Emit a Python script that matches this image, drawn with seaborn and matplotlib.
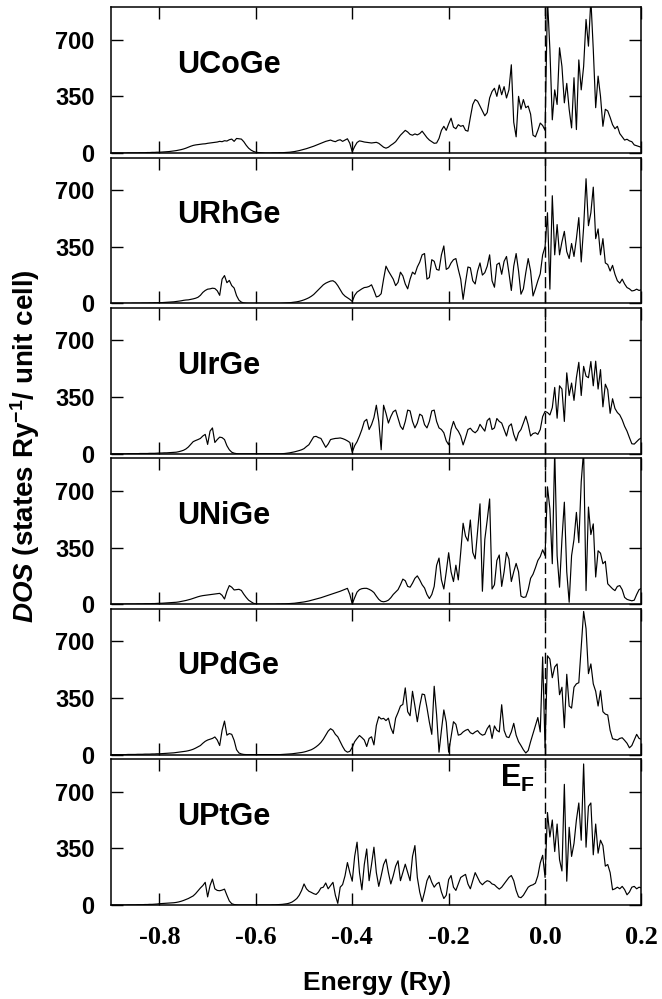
import numpy as np
import matplotlib
matplotlib.use("Agg")
import matplotlib.pyplot as plt
import seaborn as sns

# Energy grid (Ry), 0.005 Ry spacing from -0.9 to 0.2
energy = np.round(np.linspace(-0.9, 0.2, 221), 3)

compounds = ["UCoGe", "URhGe", "UIrGe", "UNiGe", "UPdGe", "UPtGe"]

dos_ucoge = [
    0, 0, 0, 0, 0, 0, 0, 1, 1, 1,
    1, 1, 2, 2, 2, 3, 3, 4, 4, 5,
    5, 6, 7, 8, 9, 11, 13, 15, 18, 21,
    25, 30, 36, 42, 47, 50, 52, 54, 56, 57,
    60, 62, 64, 66, 68, 72, 70, 76, 74, 82,
    86, 72, 90, 88, 86, 70, 48, 30, 18, 10,
    5, 3, 2, 1, 0, 0, 0, 1, 1, 1,
    2, 2, 3, 4, 5, 7, 9, 12, 15, 19,
    23, 27, 32, 37, 42, 48, 54, 60, 66, 72,
    76, 80, 74, 70, 78, 82, 72, 80, 88, 60,
    8, 40, 65, 75, 72, 68, 66, 64, 62, 64,
    66, 60, 48, 36, 30, 36, 48, 58, 70, 90,
    110, 125, 140, 130, 115, 110, 118, 112, 120, 135,
    115, 95, 80, 70, 60, 62, 90, 140, 165, 140,
    180, 215, 160, 150, 175, 165, 170, 140, 135, 220,
    300, 330, 320, 290, 260, 230, 250, 340, 380, 400,
    350, 420, 360, 410, 340, 390, 545, 190, 100, 350,
    270, 330, 280, 290, 240, 110, 100, 140, 185, 170,
    140, 950, 640, 205, 390, 300, 650, 535, 310, 430,
    270, 155, 465, 145, 575, 390, 535, 825, 660, 950,
    640, 280, 475, 350, 165, 270, 260, 220, 175, 150,
    165, 120, 100, 80, 85, 75, 70, 50, 45, 40,
    35,
]

dos_urhge = [
    0, 0, 0, 0, 0, 0, 0, 0, 0, 1,
    1, 1, 1, 2, 2, 2, 3, 3, 4, 4,
    5, 5, 6, 7, 8, 9, 10, 12, 14, 16,
    19, 21, 22, 25, 28, 32, 38, 50, 68, 80,
    88, 90, 94, 92, 78, 50, 150, 172, 128, 142,
    110, 95, 48, 20, 8, 3, 1, 0, 0, 0,
    0, 0, 0, 0, 0, 0, 0, 0, 0, 0,
    0, 1, 2, 3, 4, 6, 8, 10, 13, 17,
    22, 28, 35, 44, 55, 70, 85, 100, 115, 125,
    132, 138, 140, 130, 110, 85, 60, 45, 35, 25,
    12, 50, 70, 80, 90, 98, 100, 105, 115, 80,
    40, 45, 60, 150, 230, 200, 175, 150, 110, 130,
    193, 170, 120, 90, 150, 193, 180, 225, 255, 300,
    308, 150, 160, 270, 260, 210, 205, 300, 355, 210,
    220, 250, 270, 277, 210, 150, 25, 130, 225, 220,
    140, 120, 200, 250, 175, 190, 230, 300, 140, 100,
    240, 250, 180, 260, 290, 190, 80, 230, 308, 200,
    57, 90, 190, 277, 200, 46, 90, 140, 183, 300,
    350, 560, 88, 665, 300, 487, 300, 380, 445, 320,
    277, 370, 290, 400, 530, 256, 470, 770, 480, 560,
    718, 400, 460, 300, 400, 250, 240, 200, 235, 180,
    140, 125, 150, 120, 98, 90, 77, 80, 88, 80,
    85,
]

dos_uirge = [
    0, 0, 0, 0, 0, 0, 0, 1, 1, 1,
    1, 1, 2, 2, 2, 2, 3, 3, 3, 4,
    5, 5, 6, 6, 7, 8, 9, 10, 13, 17,
    22, 30, 42, 58, 75, 82, 88, 95, 110, 120,
    58, 140, 160, 70, 88, 103, 100, 88, 50, 25,
    10, 4, 1, 0, 0, 0, 0, 0, 0, 0,
    0, 0, 0, 0, 0, 0, 0, 0, 0, 0,
    0, 1, 2, 4, 6, 9, 12, 16, 20, 25,
    32, 45, 56, 80, 105, 108, 100, 95, 67, 40,
    60, 88, 92, 95, 96, 98, 94, 88, 80, 70,
    10, 50, 75, 110, 150, 200, 213, 150, 180, 224,
    300, 200, 25, 300, 250, 190, 230, 260, 270, 220,
    170, 150, 200, 270, 265, 200, 160, 190, 245, 235,
    180, 160, 200, 265, 270, 200, 160, 150, 130, 80,
    56, 150, 200, 160, 140, 110, 55, 100, 150, 158,
    140, 130, 145, 182, 160, 140, 205, 220, 150, 160,
    218, 200, 190, 150, 110, 170, 185, 120, 80, 130,
    150, 190, 232, 180, 110, 125, 130, 120, 150, 230,
    262, 255, 240, 285, 410, 220, 420, 400, 200, 500,
    360, 437, 330, 470, 565, 360, 540, 480, 470, 570,
    420, 572, 400, 520, 290, 430, 395, 250, 340, 280,
    255, 240, 210, 170, 140, 100, 62, 60, 75, 90,
    98,
]

dos_unige = [
    0, 0, 0, 0, 0, 0, 1, 1, 1, 1,
    1, 2, 2, 2, 3, 3, 3, 4, 4, 5,
    6, 6, 7, 8, 9, 10, 11, 12, 14, 17,
    20, 23, 27, 31, 36, 41, 46, 50, 53, 55,
    57, 59, 61, 63, 65, 67, 55, 32, 80, 115,
    105, 88, 90, 92, 85, 62, 42, 25, 15, 6,
    2, 0, 0, 0, 0, 0, 0, 0, 0, 1,
    1, 2, 2, 3, 4, 5, 6, 8, 10, 12,
    14, 17, 20, 24, 28, 32, 36, 40, 45, 50,
    55, 60, 65, 70, 75, 80, 86, 92, 98, 60,
    2, 40, 75, 90, 96, 98, 98, 92, 84, 72,
    50, 30, 18, 15, 18, 25, 40, 60, 75, 90,
    120, 155, 145, 110, 105, 130, 160, 175, 150, 120,
    100, 60, 35, 60, 110, 240, 285, 150, 94, 200,
    318, 200, 140, 241, 150, 320, 500, 420, 390, 520,
    320, 280, 450, 620, 80, 400, 520, 650, 94, 120,
    270, 304, 110, 200, 320, 280, 140, 200, 252, 200,
    50, 42, 45, 90, 160, 185, 225, 270, 294, 336,
    300, 725, 588, 250, 950, 300, 105, 400, 630, 200,
    12, 300, 400, 567, 380, 756, 950, 84, 600, 430,
    496, 168, 330, 315, 250, 265, 126, 110, 95, 84,
    110, 115, 90, 42, 30, 25, 21, 25, 60, 90,
    98,
]

dos_updge = [
    0, 0, 0, 0, 0, 0, 0, 1, 1, 1,
    1, 2, 2, 2, 3, 3, 3, 4, 4, 5,
    5, 6, 7, 8, 9, 10, 11, 13, 15, 17,
    19, 21, 24, 28, 33, 40, 48, 56, 70, 82,
    90, 95, 100, 109, 90, 56, 150, 207, 120, 130,
    125, 88, 30, 10, 4, 1, 0, 0, 0, 0,
    0, 0, 0, 0, 0, 0, 0, 0, 0, 0,
    0, 1, 2, 3, 4, 5, 7, 9, 11, 13,
    16, 20, 25, 30, 38, 48, 60, 75, 95, 120,
    145, 160, 150, 125, 110, 80, 50, 25, 15, 20,
    45, 80, 100, 118, 105, 90, 50, 100, 110, 60,
    180, 234, 220, 224, 210, 225, 166, 130, 225, 260,
    300, 310, 412, 265, 240, 391, 300, 203, 300, 374,
    370, 290, 200, 125, 422, 245, 15, 150, 276, 200,
    15, 110, 203, 187, 120, 125, 140, 150, 156, 135,
    128, 140, 148, 130, 120, 125, 160, 182, 100, 177,
    150, 140, 308, 150, 110, 105, 140, 193, 120, 80,
    56, 30, 10, 25, 80, 130, 180, 229, 140, 603,
    42, 610, 590, 475, 541, 560, 370, 416, 166, 496,
    300, 287, 416, 437, 444, 666, 884, 778, 500, 560,
    437, 391, 300, 395, 265, 250, 245, 150, 98, 94,
    90, 100, 104, 88, 70, 42, 56, 90, 125, 100,
    94,
]

dos_uptge = [
    0, 0, 0, 0, 0, 0, 0, 1, 1, 1,
    1, 2, 2, 2, 3, 3, 4, 4, 5, 6,
    8, 9, 10, 11, 12, 13, 14, 16, 19, 23,
    28, 34, 40, 48, 56, 70, 88, 105, 120, 140,
    50, 120, 160, 100, 90, 88, 92, 98, 60, 25,
    8, 3, 1, 0, 0, 0, 0, 0, 0, 0,
    0, 0, 0, 0, 0, 0, 0, 1, 1, 2,
    3, 4, 6, 8, 12, 18, 28, 40, 60, 90,
    130, 100, 85, 78, 70, 65, 80, 105, 110, 136,
    100, 120, 140, 60, 10, 110, 126, 180, 262, 200,
    147, 300, 388, 200, 94, 250, 346, 150, 250, 357,
    200, 115, 180, 250, 283, 200, 130, 180, 240, 273,
    150, 200, 252, 200, 150, 300, 367, 170, 80, 21,
    80, 150, 182, 140, 110, 130, 140, 80, 40, 60,
    157, 182, 110, 90, 130, 170, 180, 189, 130, 100,
    150, 200, 170, 140, 125, 140, 150, 145, 130, 125,
    110, 98, 110, 130, 150, 170, 182, 150, 90, 50,
    45, 60, 85, 110, 120, 125, 135, 180, 260, 307,
    170, 571, 420, 525, 330, 500, 280, 210, 745, 147,
    480, 300, 380, 525, 630, 400, 871, 357, 609, 630,
    310, 500, 320, 400, 367, 240, 250, 200, 94, 100,
    110, 100, 115, 95, 63, 80, 110, 115, 100, 110,
    105,
]

dos_sets = [dos_ucoge, dos_urhge, dos_uirge, dos_unige, dos_updge, dos_uptge]

x_ticks = [-0.8, -0.6, -0.4, -0.2, 0.0, 0.2]
y_ticks = [0, 350, 700]

sns.set_theme(style="ticks")
plt.rcParams["font.family"] = ["Liberation Sans", "DejaVu Sans"]
plt.rcParams["axes.unicode_minus"] = False
plt.rcParams["text.color"] = "black"
plt.rcParams["axes.labelcolor"] = "black"
plt.rcParams["axes.edgecolor"] = "black"
plt.rcParams["xtick.color"] = "black"
plt.rcParams["ytick.color"] = "black"
plt.rcParams["mathtext.fontset"] = "custom"
plt.rcParams["mathtext.rm"] = "Liberation Sans:bold"
plt.rcParams["mathtext.bf"] = "Liberation Sans:bold"
plt.rcParams["mathtext.it"] = "Liberation Sans:italic:bold"

fig, axes = plt.subplots(6, 1, sharex=True, figsize=(6.62, 9.99), dpi=100)
fig.subplots_adjust(left=0.168, right=0.969, top=0.9927, bottom=0.0941, hspace=0.032)

for ax, name, dos in zip(axes, compounds, dos_sets):
    sns.lineplot(x=energy, y=dos, ax=ax, color="black", linewidth=0.85,
                 estimator=None, sort=False)
    ax.axvline(0.0, color="black", linewidth=1.0, linestyle=(0, (8, 3)))
    ax.set_xlim(-0.9, 0.2)
    ax.set_ylim(0, 900)
    ax.set_xticks(x_ticks)
    ax.set_yticks(y_ticks)
    ax.set_yticklabels([str(v) for v in y_ticks], fontsize=17, fontweight="bold",
                       color="black")
    ax.tick_params(axis="both", direction="in", top=True, right=True,
                   length=8.5, width=1.0, color="black", labelcolor="black")
    ax.tick_params(axis="y", pad=12)
    for sp in ax.spines.values():
        sp.set_linewidth(1.1)
        sp.set_color("black")
    ax.set_xlabel("")
    ax.set_ylabel("")
    ax.text(0.124, 0.55, name, transform=ax.transAxes, fontsize=22,
            fontweight="bold", color="black", ha="left", va="baseline")

bottom = axes[-1]
bottom.set_xticklabels([f"{v:.1f}" for v in x_ticks], fontsize=19,
                       fontweight="bold", family="Liberation Serif", color="black")
bottom.tick_params(axis="x", pad=15)
bottom.text(-0.022, 0.81, r"E$_{\mathrm{F}}$", fontsize=22, fontweight="bold",
            color="black", ha="right", va="baseline",
            transform=bottom.get_xaxis_transform())

fig.text(0.569, 0.016, "Energy (Ry)", fontsize=19, fontweight="bold",
         color="black", ha="center", va="center")
fig.text(0.038, 0.553, r"$\mathit{DOS}$ (states Ry$^{-1}$/ unit cell)",
         fontsize=20, fontweight="bold", color="black", rotation=90,
         ha="center", va="center")

fig.savefig("out.png", dpi=100)
